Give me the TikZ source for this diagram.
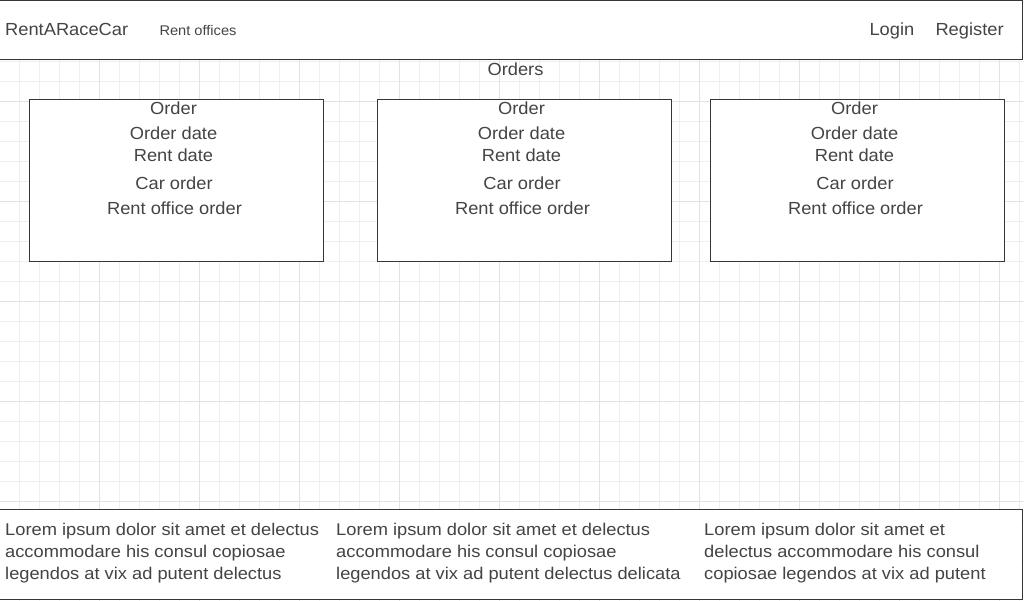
\documentclass[tikz,border=0pt]{standalone}
\usepackage{fontspec}
\setmainfont{Liberation Sans}
\newfontfamily\bigfont[FakeStretch=1.045]{Liberation Sans}
\newfontfamily\loremfont[FakeStretch=1.075]{Liberation Sans}
\definecolor{txt}{HTML}{444444}
\definecolor{edge}{HTML}{363636}
\definecolor{gminor}{HTML}{EFEFEF}
\definecolor{gmajor}{HTML}{E2E2E2}
\tikzset{
  big/.style={font=\bigfont\fontsize{17.5}{21}\selectfont, text=txt, inner sep=0pt},
  small/.style={font=\bigfont\fontsize{14}{17}\selectfont, text=txt, inner sep=0pt},
  lorem/.style={font=\loremfont\fontsize{17}{22}\selectfont, text=txt, inner sep=0pt, align=left},
  panel/.style={draw=edge, fill=white, line width=1pt},
  card/.style={draw=edge, fill=white, line width=0.9pt},
}
\begin{document}
\begin{tikzpicture}[x=1pt,y=-1pt]
\useasboundingbox (0,0) rectangle (1024,601);
\fill[white] (0,0) rectangle (1024,601);
% grid
\foreach \x in {19.5,39.5,...,1020} \draw[gminor, line width=1pt] (\x,0) -- (\x,601);
\foreach \y in {1.7,21.7,...,601} \draw[gminor, line width=1pt] (0,\y) -- (1024,\y);
\foreach \x in {99.5,199.5,...,1000} \draw[gmajor, line width=1pt] (\x,0) -- (\x,601);
\foreach \y in {101.7,201.7,...,601} \draw[gmajor, line width=1pt] (0,\y) -- (1024,\y);
% header and footer
\draw[panel] (-1,1) rectangle (1022.5,59.5);
\draw[panel] (-1,509) rectangle (1022,599.5);
\node[big, anchor=base west] (brand) at (5,35.7) {RentARaceCar};
\node[small, anchor=base west] (offices) at (159.3,35.3) {Rent offices};
\node[big, anchor=base west] (login) at (869.3,35.5) {Login};
\node[big, anchor=base west] (register) at (935.3,35.5) {Register};
\node[big, anchor=base] (orders) at (515.5,76) {Orders};
% cards
\foreach \i/\dx in {1/0,2/348,3/681}{
  \draw[card] (29.3+\dx,99.3) rectangle (323.3+\dx,261);
  \node[big, anchor=base] (order\i) at (173.5+\dx,115) {Order};
  \node[big, anchor=base] (odate\i) at (173.5+\dx,139.3) {Order date};
  \node[big, anchor=base] (rdate\i) at (173.5+\dx,161.2) {Rent date};
  \node[big, anchor=base] (corder\i) at (174+\dx,189.3) {Car order};
  \node[big, anchor=base] (oorder\i) at (174.5+\dx,215) {Rent office order};
}
% footer texts (base anchor = baseline of last line)
\node[lorem, anchor=base west] (lorem1) at (5,579) {Lorem ipsum dolor sit amet et delectus\\accommodare his consul copiosae\\legendos at vix ad putent delectus};
\node[lorem, anchor=base west] (lorem2) at (336,579) {Lorem ipsum dolor sit amet et delectus\\accommodare his consul copiosae\\legendos at vix ad putent delectus delicata};
\node[lorem, anchor=base west] (lorem3) at (704,579) {Lorem ipsum dolor sit amet et\\delectus accommodare his consul\\copiosae legendos at vix ad putent};
\end{tikzpicture}
\end{document}
